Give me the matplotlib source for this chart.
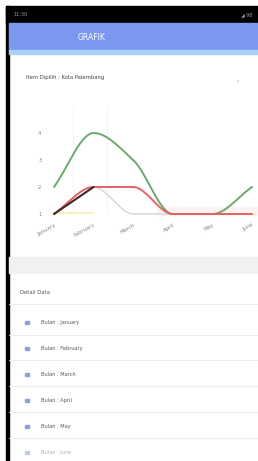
import matplotlib
matplotlib.use("Agg")
import matplotlib.pyplot as plt
import numpy as np

# Data
months = ["January", "February", "March", "April", "May", "June"]
green = [2, 4, 3, 1, 1, 2]
red = [1, 2, 2, 1, 1, 1]
grey = [1, 2, 1, 1, 1, 1]
dark = [1, 2, np.nan, np.nan, np.nan, np.nan]
yellow = [1.05, 1.05, np.nan, np.nan, np.nan, np.nan]
yticks = [1, 2, 3, 4]
listItems = ["Bulan : " + m for m in months]

W, H = 258, 461


def monotone(x, y, n=40):
    # Fritsch-Carlson monotone cubic, drawn between the known points only
    x = np.asarray(x, float)
    y = np.asarray(y, float)
    ok = ~np.isnan(y)
    x, y = x[ok], y[ok]
    d = np.diff(y) / np.diff(x)
    m = np.zeros_like(y)
    m[0], m[-1] = d[0], d[-1]
    for i in range(1, len(y) - 1):
        if d[i - 1] * d[i] <= 0:
            m[i] = 0
        else:
            m[i] = 2 / (1 / d[i - 1] + 1 / d[i])
    xs, ys = [], []
    for i in range(len(x) - 1):
        h = x[i + 1] - x[i]
        t = np.linspace(0, 1, n)
        h00 = 2 * t**3 - 3 * t**2 + 1
        h10 = t**3 - 2 * t**2 + t
        h01 = -2 * t**3 + 3 * t**2
        h11 = t**3 - t**2
        xs.append(x[i] + t * h)
        ys.append(h00 * y[i] + h10 * h * m[i] + h01 * y[i + 1] + h11 * h * m[i + 1])
    return np.concatenate(xs), np.concatenate(ys)


fig = plt.figure(figsize=(W / 100, H / 100), dpi=100)
fig.patch.set_facecolor("white")

# UI overlay in pixel coordinates
ui = fig.add_axes([0, 0, 1, 1])
ui.set_xlim(0, W)
ui.set_ylim(H, 0)
ui.axis("off")

ui.add_patch(plt.Rectangle((6, 6), W - 6, 17, color="black"))
ui.add_patch(plt.Rectangle((6, 6), 3, H - 6, color="black"))
ui.add_patch(plt.Rectangle((9, 23), W - 9, 28, color="#7b98f0"))
ui.add_patch(plt.Rectangle((9, 50), W - 9, 4, color="#a9d4f7"))
ui.text(13, 15, "11:30", color="#9a9a9a", fontsize=3.5, va="center")
ui.text(252, 15, "◢ 98", color="#9a9a9a", fontsize=3.5, va="center", ha="right")
ui.text(92, 38, "GRAFIK", color="white", fontsize=5.5, ha="center", va="center")
ui.text(26, 78, "Item Dipilih : Kota Palembang", color="#444444", fontsize=3.8, va="center")
ui.text(238, 80, "⌄", color="#aaaaaa", fontsize=5, ha="center", va="center")

# faint highlight lines behind the chart
ui.plot([73, 73], [107, 213], color="#fdf1f1", lw=0.8)
ui.plot([107, 107], [107, 213], color="#fdf1f1", lw=0.8)
ui.add_patch(plt.Rectangle((157, 207), 100, 8, color="#fdf3f3"))

# Detail list
ui.add_patch(plt.Rectangle((9, 257), W - 9, 16, color="#f1f1f1"))
ui.text(20, 292, "Detail Data", color="#555555", fontsize=3.8, va="center")
for y in [304, 335, 360, 386, 412, 438]:
    ui.plot([9, W], [y, y], color="#ebebeb", lw=0.6)
for i, item in enumerate(listItems):
    y = 322 + i * 26
    alpha = 0.45 if i == len(listItems) - 1 else 1
    ui.add_patch(plt.Rectangle((25, y - 1.5), 4, 3, color="#8fa2d8", alpha=alpha))
    ui.text(41, y, item, color="#555555", fontsize=3.6, va="center", alpha=alpha)

# Chart
x0, x1 = 54, 252
yBase, yTop = 214, 119.5
ax = fig.add_axes([x0 / W, 1 - yBase / H, (x1 - x0) / W, (yBase - yTop) / H])
ax.patch.set_alpha(0)
ax.set_xlim(0, len(months) - 1)
ax.set_ylim(1, 4.5)
for s in ax.spines.values():
    s.set_visible(False)

xs = np.arange(len(months))
series = [
    (yellow, "#f6f0a8", 1.2),
    (grey, "#d4d4d4", 1.0),
    (green, "#6fa86f", 1.4),
    (red, "#e26464", 1.4),
    (dark, "#3a2a2a", 1.5),
]
for vals, col, lw in series:
    sx, sy = monotone(xs, vals)
    ax.plot(sx, sy, color=col, lw=lw, clip_on=False, solid_capstyle="round")

ax.set_yticks(yticks)
ax.set_yticklabels([str(t) for t in yticks])
ax.set_xticks(xs)
ax.set_xticklabels(months, rotation=30, ha="right", rotation_mode="anchor")
ax.tick_params(length=0, labelsize=3.8, colors="#888888")
ax.tick_params(axis="y", pad=9)
ax.tick_params(axis="x", pad=6)

fig.savefig("out.png", dpi=100)
